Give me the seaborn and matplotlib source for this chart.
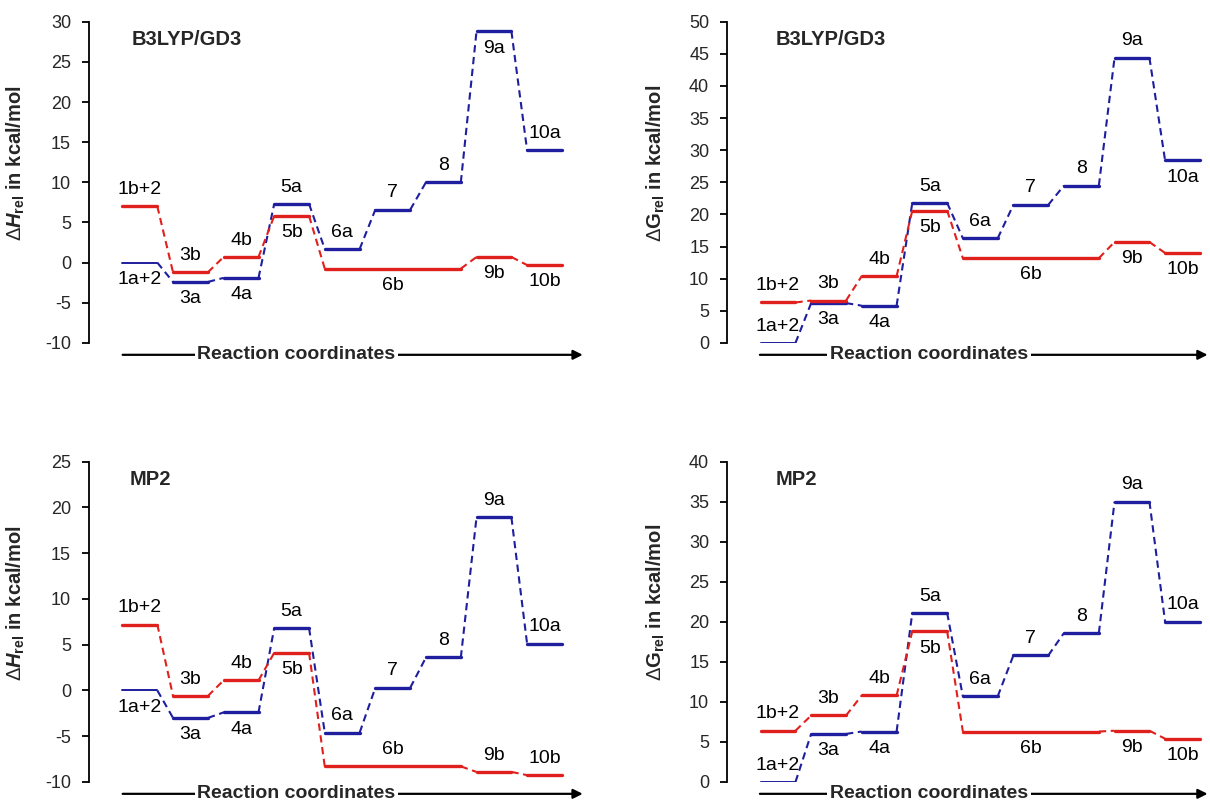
import numpy as np
import pandas as pd
import seaborn as sns
import matplotlib.pyplot as plt

sns.set_theme(style='ticks')
plt.rcParams['font.family'] = ['Liberation Sans', 'DejaVu Sans']
plt.rcParams['axes.unicode_minus'] = False
plt.rcParams['mathtext.fontset'] = 'custom'
plt.rcParams['mathtext.rm'] = 'Liberation Sans'
plt.rcParams['mathtext.it'] = 'Liberation Sans:italic:bold'
plt.rcParams['mathtext.bf'] = 'Liberation Sans:bold'

# species along the reaction coordinate
labels_a = ['1a+2', '3a', '4a', '5a', '6a', '7', '8', '9a', '10a']
labels_b = ['1b+2', '3b', '4b', '5b', '6b', '9b', '10b']
slot_a = [0, 1, 2, 3, 4, 5, 6, 7, 8]
slot_b_start = [0, 1, 2, 3, 4, 7, 8]
slot_b_end = [0, 1, 2, 3, 6, 7, 8]

# relative energies (kcal/mol)
h_b3lyp_a = [0, -2.4, -1.9, 7.3, 1.7, 6.6, 10.0, 28.8, 14.0]
h_b3lyp_b = [7.0, -1.2, 0.7, 5.8, -0.75, 0.7, -0.3]
g_b3lyp_a = [0, 6.2, 5.8, 21.8, 16.3, 21.5, 24.5, 44.4, 28.4]
g_b3lyp_b = [6.3, 6.6, 10.4, 20.6, 13.2, 15.7, 14.0]
h_mp2_a = [0, -3.0, -2.4, 6.8, -4.6, 0.3, 3.6, 18.9, 5.1]
h_mp2_b = [7.2, -0.6, 1.1, 4.1, -8.3, -8.9, -9.25]
g_mp2_a = [0, 6.0, 6.3, 21.1, 10.7, 15.8, 18.6, 35.0, 20.0]
g_mp2_b = [6.4, 8.3, 10.8, 18.8, 6.3, 6.4, 5.4]

BLUE = '#1E1E9E'
RED = '#E0201C'
W = 0.69  # width of one level

panels = [
    dict(a=h_b3lyp_a, b=h_b3lyp_b, ylim=(-10, 30), title='B3LYP/GD3',
         ylabel=r'$\Delta\mathit{H}_{\mathbf{rel}}$ in kcal/mol',
         rect=[0.0736, 0.574, 0.408, 0.399],
         pa=['d', 'd', 'd', 'u', 'u', 'u', 'u', 'd', 'u'],
         pb=['u', 'u', 'u', 'd', 'd', 'd', 'd'], tx=0.087),
    dict(a=g_b3lyp_a, b=g_b3lyp_b, ylim=(0, 50), title='B3LYP/GD3',
         ylabel=r'$\Delta\mathbf{G}_{\mathbf{rel}}$ in kcal/mol',
         rect=[0.601, 0.574, 0.397, 0.399],
         pa=['u', 'd', 'd', 'u', 'u', 'u', 'u', 'u', 'd'],
         pb=['u', 'u', 'u', 'd', 'd', 'd', 'd'], tx=0.1),
    dict(a=h_mp2_a, b=h_mp2_b, ylim=(-10, 25), title='MP2',
         ylabel=r'$\Delta\mathit{H}_{\mathbf{rel}}$ in kcal/mol',
         rect=[0.0736, 0.0286, 0.408, 0.398],
         pa=['d', 'd', 'd', 'u', 'u', 'u', 'u', 'u', 'u'],
         pb=['u', 'u', 'u', 'd', 'u', 'u', 'u'], tx=0.083),
    dict(a=g_mp2_a, b=g_mp2_b, ylim=(0, 40), title='MP2',
         ylabel=r'$\Delta\mathbf{G}_{\mathbf{rel}}$ in kcal/mol',
         rect=[0.601, 0.0286, 0.397, 0.398],
         pa=['u', 'd', 'd', 'u', 'u', 'u', 'u', 'u', 'u'],
         pb=['u', 'u', 'u', 'd', 'd', 'd', 'd'], tx=0.1),
]


def build(vals_a, vals_b):
    levels, links = [], []
    paths = [('a', vals_a, slot_a, slot_a), ('b', vals_b, slot_b_start, slot_b_end)]
    for name, vals, s0, s1 in paths:
        for i, v in enumerate(vals):
            seg = f'{name}{i}'
            levels.append(dict(x=s0[i], y=v, seg=seg, path=name))
            levels.append(dict(x=s1[i] + W, y=v, seg=seg, path=name))
            if i > 0:
                lk = f'{name}l{i}'
                links.append(dict(x=s1[i - 1] + W, y=vals[i - 1], seg=lk, path=name))
                links.append(dict(x=s0[i], y=v, seg=lk, path=name))
    return pd.DataFrame(levels), pd.DataFrame(links)


fig = plt.figure(figsize=(12.1, 8.05), dpi=100)
pal = {'a': BLUE, 'b': RED}

for p in panels:
    ax = fig.add_axes(p['rect'])
    lev, lnk = build(p['a'], p['b'])
    sns.lineplot(data=lnk, x='x', y='y', units='seg', hue='path', palette=pal,
                 estimator=None, sort=False, legend=False, ax=ax,
                 lw=1.5, linestyle='--', dashes=False)
    for ln in ax.lines:
        ln.set_dashes((3.5, 2.2))
    thin = lev[lev.seg == 'a0']
    sns.lineplot(data=thin, x='x', y='y', color=BLUE, lw=1.4, estimator=None,
                 sort=False, legend=False, ax=ax)
    sns.lineplot(data=lev[lev.seg != 'a0'], x='x', y='y', units='seg', hue='path',
                 palette=pal, estimator=None, sort=False, legend=False, ax=ax, lw=2.4)

    lo, hi = p['ylim']
    off = 6
    for i, v in enumerate(p['a']):
        up = p['pa'][i] == 'u'
        ax.annotate(labels_a[i], (slot_a[i] + W / 2, v), xytext=(0, off if up else -off),
                    textcoords='offset points', ha='center', va='bottom' if up else 'top',
                    fontsize=14, color='black')
    for i, v in enumerate(p['b']):
        up = p['pb'][i] == 'u'
        xc = (slot_b_start[i] + slot_b_end[i] + W) / 2
        ax.annotate(labels_b[i], (xc, v), xytext=(0, off if up else -off),
                    textcoords='offset points', ha='center', va='bottom' if up else 'top',
                    fontsize=14, color='black')

    ax.set_xlim(-0.66, 9.1 if p['rect'][0] < 0.5 else 8.84)
    ax.set_ylim(lo, hi)
    ax.set_yticks(np.arange(lo, hi + 1, 5))
    ax.set_xticks([])
    ax.set_xlabel('')
    ax.set_ylabel(p['ylabel'], fontsize=14.5, fontweight='bold')
    ax.yaxis.set_label_coords(-0.125, 0.56)
    sns.despine(ax=ax, bottom=True)
    ax.spines['left'].set_linewidth(1.3)
    ax.spines['left'].set_color('black')
    ax.tick_params(axis='y', labelsize=13, length=5, width=1.3, color='black', pad=8)
    ax.text(p['tx'], 0.944, p['title'], transform=ax.transAxes, fontsize=14.5,
            fontweight='bold', ha='left', va='center')

    # reaction coordinate arrow under the axis
    ax.annotate('', xy=(1.0, -0.037), xytext=(0.068, -0.037), xycoords='axes fraction',
                arrowprops=dict(arrowstyle='-|>', color='black', lw=1.6, mutation_scale=14,
                                shrinkA=0, shrinkB=0), annotation_clip=False)
    ax.text(0.42, -0.037, 'Reaction coordinates', transform=ax.transAxes, fontsize=14,
            fontweight='bold', ha='center', va='center', zorder=5,
            bbox=dict(facecolor='white', edgecolor='none', pad=2), clip_on=False)

fig.savefig('out.png', dpi=100)
